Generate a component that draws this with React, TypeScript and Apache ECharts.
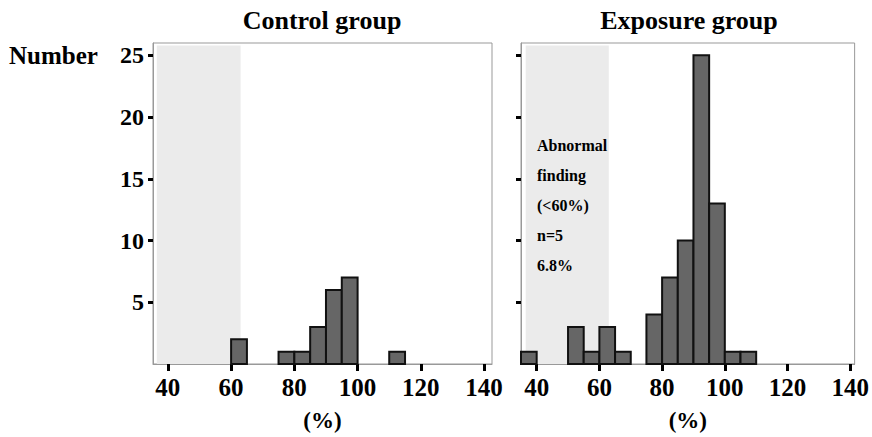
import React, { useEffect, useRef } from "react";
import * as echarts from "echarts";

// Histogram bins (lower edge, % ; width 5)
const binStarts = [35, 40, 45, 50, 55, 60, 65, 70, 75, 80, 85, 90, 95, 100, 105, 110];
const binWidth = 5;
const controlCounts = [0, 0, 0, 0, 0, 2, 0, 0, 1, 1, 3, 6, 7, 0, 0, 1];
const exposureCounts = [1, 0, 0, 3, 1, 3, 1, 0, 4, 7, 10, 25, 13, 1, 1, 0];
const xTicks = [40, 60, 80, 100, 120, 140];
const yTicks = [5, 10, 15, 20, 25];
// shaded "abnormal" zone [x0, x1, top]
const abnormalZone = [[36.5, 63, 25.8]];
const panelTitles = ["Control group", "Exposure group"];
const annotationLines = ["Abnormal", "finding", "(<60%)", "n=5", "6.8%"];

const FONT = "'Liberation Serif', 'Times New Roman', serif";

export default function App() {
  const ref = useRef<HTMLDivElement>(null);
  useEffect(() => {
    document.body.style.margin = "0";
    const chart = echarts.init(ref.current!, null, { renderer: "svg" });

    const histData = (counts: number[]) =>
      binStarts.map((s, i) => [s, counts[i]]).filter((d) => d[1] > 0);

    const barRender = (params: any, api: any) => {
      const x0 = api.value(0);
      const c = api.value(1);
      const p1 = api.coord([x0, c]);
      const p2 = api.coord([x0 + binWidth, 0]);
      return {
        type: "rect",
        shape: { x: p1[0], y: p1[1], width: p2[0] - p1[0], height: p2[1] - p1[1] },
        style: { fill: "#666666", stroke: "#111", lineWidth: 2 },
      };
    };
    const zoneRender = (params: any, api: any) => {
      const p1 = api.coord([api.value(0), api.value(2)]);
      const p2 = api.coord([api.value(1), 0]);
      return {
        type: "rect",
        shape: { x: p1[0], y: p1[1], width: p2[0] - p1[0], height: p2[1] - p1[1] },
        style: { fill: "#ebebeb", stroke: null },
      };
    };

    const grids = [
      { left: 153, top: 43, width: 339, height: 321 },
      { left: 521, top: 43, width: 336, height: 321 },
    ];
    const xRanges = [
      [35.3, 142.5],
      [35, 141.4],
    ];

    const xAxis = [0, 1].map((i) => ({
      type: "value",
      gridIndex: i,
      min: xRanges[i][0],
      max: xRanges[i][1],
      splitLine: { show: false },
      axisLine: { show: true, lineStyle: { color: "#999", width: 1 } },
      axisTick: {
        show: true,
        customValues: xTicks,
        length: 7,
        lineStyle: { color: "#000", width: 3 },
      },
      axisLabel: {
        customValues: xTicks,
        margin: 11,
        color: "#000",
        fontFamily: FONT,
        fontWeight: "bold",
        fontSize: 25,
      },
      name: "(%)",
      nameLocation: "middle",
      nameGap: 45,
      nameTextStyle: { color: "#000", fontFamily: FONT, fontWeight: "bold", fontSize: 23 },
    }));

    const yAxis = [0, 1].map((i) => ({
      type: "value",
      gridIndex: i,
      min: 0,
      max: 26,
      splitLine: { show: false },
      axisLine: { show: true, lineStyle: { color: "#999", width: 1 } },
      axisTick: {
        show: true,
        customValues: yTicks,
        length: 5,
        lineStyle: { color: "#000", width: 3 },
      },
      axisLabel: {
        show: i === 0,
        customValues: yTicks,
        margin: 9,
        color: "#000",
        fontFamily: FONT,
        fontWeight: "bold",
        fontSize: 24,
      },
    }));

    const series: any[] = [];
    [controlCounts, exposureCounts].forEach((counts, i) => {
      series.push({
        type: "custom",
        xAxisIndex: i,
        yAxisIndex: i,
        z: 1,
        silent: true,
        renderItem: zoneRender,
        data: abnormalZone,
      });
      series.push({
        type: "custom",
        xAxisIndex: i,
        yAxisIndex: i,
        z: 3,
        renderItem: barRender,
        data: histData(counts),
      });
    });

    const graphic: any[] = [
      {
        type: "text",
        x: 322,
        y: 20,
        style: {
          text: panelTitles[0],
          fill: "#000",
          font: `bold 26px ${FONT}`,
          textAlign: "center",
          textVerticalAlign: "middle",
        },
      },
      {
        type: "text",
        x: 689,
        y: 20,
        style: {
          text: panelTitles[1],
          fill: "#000",
          font: `bold 26px ${FONT}`,
          textAlign: "center",
          textVerticalAlign: "middle",
        },
      },
      {
        type: "text",
        x: 9,
        y: 55,
        style: {
          text: "Number",
          fill: "#000",
          font: `bold 25px ${FONT}`,
          textAlign: "left",
          textVerticalAlign: "middle",
        },
      },
      ...annotationLines.map((t, k) => ({
        type: "text",
        x: 537,
        y: 145 + k * 30,
        z: 10,
        style: {
          text: t,
          fill: "#000",
          font: `bold 16px ${FONT}`,
          textAlign: "left",
          textVerticalAlign: "middle",
        },
      })),
    ];

    chart.setOption({
      animation: false,
      backgroundColor: "#fff",
      grid: grids.map((g) => ({ ...g, show: true, borderColor: "#999", borderWidth: 1, backgroundColor: "transparent" })),
      xAxis,
      yAxis,
      series,
      graphic,
    });
    return () => chart.dispose();
  }, []);
  return <div ref={ref} style={{ width: 872, height: 437 }} />;
}
